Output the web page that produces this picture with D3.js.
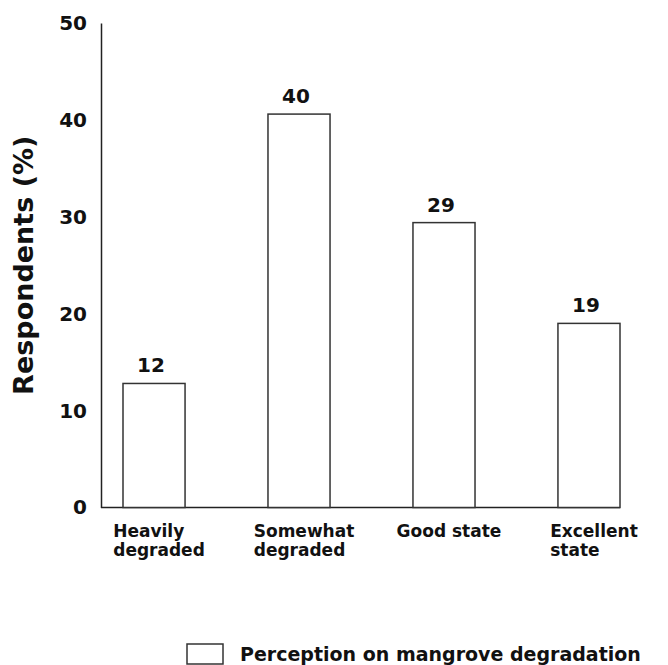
<!DOCTYPE html>
<html>
<head>
<meta charset="utf-8">
<script src="https://cdn.jsdelivr.net/npm/d3@7"></script>
<style>
  body { margin: 0; background: #fff; }
  text { font-family: "DejaVu Sans", Verdana, sans-serif; font-weight: bold; fill: #111; }
</style>
</head>
<body>
<svg id="chart"></svg>
<script>
// values
const categories = ["Heavily degraded", "Somewhat degraded", "Good state", "Excellent state"];
const categoryLines = [["Heavily", "degraded"], ["Somewhat", "degraded"], ["Good state"], ["Excellent", "state"]];
const respondents = [12.8, 40.6, 29.4, 19.0];
const valueLabels = ["12", "40", "29", "19"];
const yTicks = [0, 10, 20, 30, 40, 50];
const yTitle = "Respondents (%)";
const legendLabel = "Perception on mangrove degradation";

const config = {
  containerWidth: 668,
  containerHeight: 665,
  margin: {top: 23, right: 48, bottom: 157.5, left: 101}
};

const width = config.containerWidth - config.margin.left - config.margin.right;
const height = config.containerHeight - config.margin.top - config.margin.bottom;

const svg = d3.select('#chart')
  .attr('width', config.containerWidth)
  .attr('height', config.containerHeight);

const chart = svg.append('g')
  .attr('transform', `translate(${config.margin.left},${config.margin.top})`);

const xScale = d3.scaleBand()
  .domain(categories)
  .range([22, width])
  .paddingInner(0.572)
  .paddingOuter(0);

const yScale = d3.scaleLinear()
  .domain([0, 50])
  .range([height, 0]);

// y axis: line only, no tick marks
const yAxis = d3.axisLeft(yScale)
  .tickValues(yTicks)
  .tickSize(0)
  .tickPadding(14);

const yAxisG = chart.append('g')
  .attr('class', 'axis y-axis')
  .call(yAxis);
yAxisG.select('.domain').attr('stroke', '#222').attr('stroke-width', 1.5);
yAxisG.selectAll('text')
  .attr('font-size', '20px')
  .attr('fill', '#111')
  .style('font-family', '"DejaVu Sans", Verdana, sans-serif')
  .style('font-weight', 'bold');

// y axis title
svg.append('text')
  .attr('transform', `translate(33,${config.margin.top + height / 2}) rotate(-90)`)
  .attr('text-anchor', 'middle')
  .attr('font-size', '27px')
  .text(yTitle);

// baseline
chart.append('line')
  .attr('x1', 0)
  .attr('x2', width)
  .attr('y1', yScale(0))
  .attr('y2', yScale(0))
  .attr('stroke', '#222')
  .attr('stroke-width', 1.5);

const data = categories.map((c, i) => ({cat: c, value: respondents[i], label: valueLabels[i], lines: categoryLines[i]}));

chart.selectAll('rect.bar')
  .data(data)
  .join('rect')
  .attr('class', 'bar')
  .attr('x', d => xScale(d.cat))
  .attr('y', d => yScale(d.value))
  .attr('width', xScale.bandwidth())
  .attr('height', d => yScale(0) - yScale(d.value))
  .attr('fill', '#fff')
  .attr('stroke', '#333')
  .attr('stroke-width', 1.5);

chart.selectAll('text.value')
  .data(data)
  .join('text')
  .attr('class', 'value')
  .attr('x', d => xScale(d.cat) + xScale.bandwidth() / 2 - 3)
  .attr('y', d => yScale(d.value) - 11)
  .attr('text-anchor', 'middle')
  .attr('font-size', '20px')
  .text(d => d.label);

// category labels: left aligned block, centred under the bar
const catG = chart.selectAll('g.cat')
  .data(data)
  .join('g')
  .attr('class', 'cat');

catG.each(function(d) {
  const g = d3.select(this);
  const t = g.append('text')
    .attr('font-size', '17px');
  t.selectAll('tspan')
    .data(d.lines)
    .join('tspan')
    .attr('x', 0)
    .attr('dy', (l, i) => i === 0 ? 0 : 19)
    .text(l => l);
  const w = t.node().getBBox().width;
  g.attr('transform', `translate(${xScale(d.cat) + xScale.bandwidth() / 2 + 5 - w / 2},${height + 29})`);
});

// legend
const legend = svg.append('g')
  .attr('transform', 'translate(187,644)');
legend.append('rect')
  .attr('width', 36)
  .attr('height', 20)
  .attr('fill', '#fff')
  .attr('stroke', '#333')
  .attr('stroke-width', 1.5);
legend.append('text')
  .attr('x', 53)
  .attr('y', 17)
  .attr('font-size', '19px')
  .text(legendLabel);
</script>
</body>
</html>
